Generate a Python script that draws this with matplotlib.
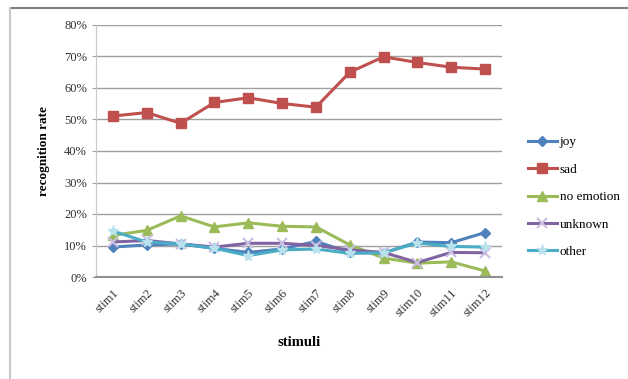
import matplotlib.pyplot as plt
from matplotlib.ticker import PercentFormatter

stimuli = ['stim1', 'stim2', 'stim3', 'stim4', 'stim5', 'stim6',
           'stim7', 'stim8', 'stim9', 'stim10', 'stim11', 'stim12']

joy = [9.5, 10.2, 10.5, 9.1, 7.8, 8.9, 11.3, 7.8, 7.6, 11.1, 10.9, 14.1]
sad = [51.1, 52.2, 48.8, 55.4, 56.9, 55.1, 53.9, 65.0, 69.9, 68.1, 66.6, 66.0]
no_emotion = [13.2, 14.8, 19.4, 15.9, 17.2, 16.1, 15.9, 10.2, 6.0, 4.4, 4.8, 1.9]
unknown = [11.1, 11.6, 10.5, 9.5, 10.7, 10.7, 10.0, 8.6, 7.8, 4.6, 7.8, 7.7]
other = [14.6, 11.1, 10.5, 9.1, 6.8, 8.6, 8.9, 7.5, 7.7, 10.8, 9.7, 9.5]

plt.rcParams['font.family'] = ['Liberation Serif', 'DejaVu Serif']

fig = plt.figure(figsize=(6.28, 3.79), dpi=100)
fig.patch.set_facecolor('white')

# outer chart frame (top and left edges visible)
fig.add_artist(plt.Line2D([10/628, 1], [1 - 8/379, 1 - 8/379], color='#808080', lw=1.5))
fig.add_artist(plt.Line2D([10/628, 10/628], [0, 1 - 8/379], color='#c8c8c8', lw=1.5))

ax = fig.add_axes([96/628, 1 - 277/379, (502 - 96)/628, (277 - 25)/379])
x = range(len(stimuli))

ax.plot(x, joy, color='#4F81BD', marker='D', markersize=5, lw=2.2, label='joy')
ax.plot(x, sad, color='#C0504D', marker='s', markersize=7, lw=2.2, label='sad')
ax.plot(x, no_emotion, color='#9BBB59', marker='^', markersize=7, lw=2.2, label='no emotion')
ax.plot(x, unknown, color='#8064A2', marker='x', markersize=7, mew=1.5, lw=2.2,
        mec='#c9bde0', label='unknown')
ax.plot(x, other, color='#4BACC6', marker='*', markersize=8, lw=2.2,
        mec='#b8e2ee', mfc='#b8e2ee', label='other')

ax.set_ylim(0, 80)
ax.set_xlim(-0.5, 11.5)
ax.set_yticks(range(0, 81, 10))
ax.yaxis.set_major_formatter(PercentFormatter(decimals=0))
ax.grid(axis='y', color='#a0a0a0', lw=1)
ax.set_axisbelow(True)
ax.set_xticks(list(x))
ax.set_xticklabels(stimuli, rotation=45, ha='right', rotation_mode='anchor')
ax.tick_params(axis='both', labelsize=9, length=3, color='#a0a0a0', colors='#303030')
ax.tick_params(axis='x', length=0, pad=7)

for s in ['top', 'right']:
    ax.spines[s].set_visible(False)
ax.spines['left'].set_color('#c8c8c8')
ax.spines['bottom'].set_color('#909090')
ax.spines['bottom'].set_linewidth(1.5)

ax.set_ylabel('recognition rate', fontsize=9.5, fontweight='bold', labelpad=10)
ax.set_xlabel('stimuli', fontsize=10.5, fontweight='bold', labelpad=12)

fig.legend(loc='center left', bbox_to_anchor=(516/628, 1 - 197/379), frameon=False,
           fontsize=9.5, handlelength=2.2, labelspacing=1.15, handletextpad=0.2)

fig.savefig('out.png', dpi=100)
